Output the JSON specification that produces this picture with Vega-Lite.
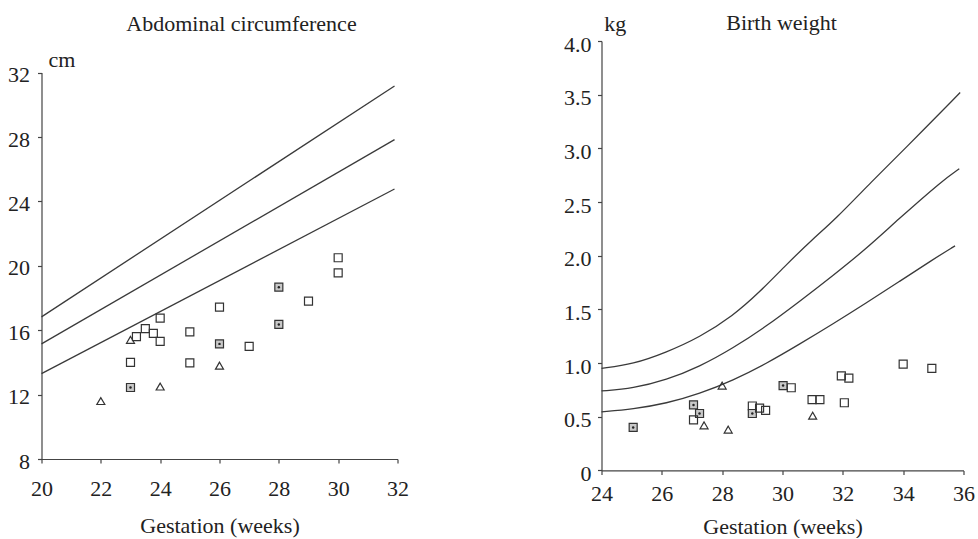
{
  "$schema": "https://vega.github.io/schema/vega-lite/v6.json",
  "background": "white",
  "padding": {"left": 7.5, "top": 11, "right": 5, "bottom": 0},
  "spacing": 204,
  "bounds": "flush",
  "config": {
    "view": {"stroke": null},
    "font": "Liberation Serif",
    "style": {
      "guide-label": {"font": "Liberation Serif", "fontSize": 22, "fill": "#222"},
      "guide-title": {"font": "Liberation Serif", "fontSize": 22, "fontWeight": "normal", "fill": "#222"}
    },
    "axis": {
      "grid": false,
      "domainColor": "#444",
      "tickColor": "#444",
      "domainWidth": 1.2,
      "tickWidth": 1.2,
      "tickSize": 4,
      "labelFont": "Liberation Serif",
      "labelFontSize": 22,
      "labelColor": "#222",
      "labelFlush": false,
      "labelOverlap": false,
      "titleFont": "Liberation Serif",
      "titleFontSize": 22,
      "titleFontWeight": "normal",
      "titleColor": "#222"
    }
  },
  "datasets": {
    "acLines": [
      {"gest": 20, "value": 16.83, "c": "upper"},
      {"gest": 31.9, "value": 31.17, "c": "upper"},
      {"gest": 20, "value": 15.15, "c": "mid"},
      {"gest": 31.9, "value": 27.84, "c": "mid"},
      {"gest": 20, "value": 13.3, "c": "lower"},
      {"gest": 31.9, "value": 24.77, "c": "lower"}
    ],
    "acPts": [
      {"gest": 22, "value": 11.6, "type": "triangle"},
      {"gest": 23, "value": 12.44, "type": "dotted"},
      {"gest": 24, "value": 12.5, "type": "triangle"},
      {"gest": 23, "value": 14.0, "type": "square"},
      {"gest": 23, "value": 15.4, "type": "triangle"},
      {"gest": 23.2, "value": 15.6, "type": "square"},
      {"gest": 23.5, "value": 16.1, "type": "square"},
      {"gest": 23.77, "value": 15.8, "type": "square"},
      {"gest": 24, "value": 15.3, "type": "square"},
      {"gest": 24, "value": 16.75, "type": "square"},
      {"gest": 25, "value": 15.9, "type": "square"},
      {"gest": 25, "value": 13.97, "type": "square"},
      {"gest": 26, "value": 17.43, "type": "square"},
      {"gest": 26, "value": 15.15, "type": "dotted"},
      {"gest": 26, "value": 13.8, "type": "triangle"},
      {"gest": 27, "value": 15.0, "type": "square"},
      {"gest": 28, "value": 18.67, "type": "dotted"},
      {"gest": 28, "value": 16.36, "type": "dotted"},
      {"gest": 29, "value": 17.8, "type": "square"},
      {"gest": 30, "value": 20.5, "type": "square"},
      {"gest": 30, "value": 19.56, "type": "square"}
    ],
    "bwLines": [
      {"gest": 24, "value": 0.95, "c": "upper"},
      {"gest": 25.05, "value": 0.99, "c": "upper"},
      {"gest": 26.15, "value": 1.1, "c": "upper"},
      {"gest": 27.25, "value": 1.24, "c": "upper"},
      {"gest": 28.36, "value": 1.44, "c": "upper"},
      {"gest": 29.24, "value": 1.66, "c": "upper"},
      {"gest": 30.12, "value": 1.915, "c": "upper"},
      {"gest": 31.0, "value": 2.155, "c": "upper"},
      {"gest": 31.72, "value": 2.33, "c": "upper"},
      {"gest": 32.99, "value": 2.7, "c": "upper"},
      {"gest": 34.0, "value": 2.98, "c": "upper"},
      {"gest": 35.89, "value": 3.52, "c": "upper"},
      {"gest": 24, "value": 0.74, "c": "mid"},
      {"gest": 25.05, "value": 0.764, "c": "mid"},
      {"gest": 26.15, "value": 0.842, "c": "mid"},
      {"gest": 27.25, "value": 0.966, "c": "mid"},
      {"gest": 28.35, "value": 1.137, "c": "mid"},
      {"gest": 29.45, "value": 1.339, "c": "mid"},
      {"gest": 30.56, "value": 1.573, "c": "mid"},
      {"gest": 31.66, "value": 1.812, "c": "mid"},
      {"gest": 32.76, "value": 2.061, "c": "mid"},
      {"gest": 33.81, "value": 2.332, "c": "mid"},
      {"gest": 35.3, "value": 2.7, "c": "mid"},
      {"gest": 35.86, "value": 2.81, "c": "mid"},
      {"gest": 24, "value": 0.546, "c": "lower"},
      {"gest": 25.05, "value": 0.571, "c": "lower"},
      {"gest": 26.15, "value": 0.624, "c": "lower"},
      {"gest": 27.25, "value": 0.714, "c": "lower"},
      {"gest": 28.36, "value": 0.839, "c": "lower"},
      {"gest": 29.46, "value": 0.994, "c": "lower"},
      {"gest": 30.56, "value": 1.175, "c": "lower"},
      {"gest": 31.66, "value": 1.362, "c": "lower"},
      {"gest": 32.77, "value": 1.558, "c": "lower"},
      {"gest": 33.87, "value": 1.759, "c": "lower"},
      {"gest": 34.97, "value": 1.962, "c": "lower"},
      {"gest": 35.72, "value": 2.092, "c": "lower"}
    ],
    "bwPts": [
      {"gest": 25.05, "value": 0.4, "type": "dotted"},
      {"gest": 27.05, "value": 0.61, "type": "dotted"},
      {"gest": 27.25, "value": 0.53, "type": "dotted"},
      {"gest": 27.05, "value": 0.47, "type": "square"},
      {"gest": 27.4, "value": 0.42, "type": "triangle"},
      {"gest": 28.0, "value": 0.79, "type": "triangle"},
      {"gest": 28.2, "value": 0.38, "type": "triangle"},
      {"gest": 29.0, "value": 0.6, "type": "square"},
      {"gest": 29.0, "value": 0.53, "type": "dotted"},
      {"gest": 29.24, "value": 0.58, "type": "square"},
      {"gest": 29.44, "value": 0.56, "type": "square"},
      {"gest": 30.02, "value": 0.79, "type": "dotted"},
      {"gest": 30.29, "value": 0.77, "type": "square"},
      {"gest": 30.98, "value": 0.66, "type": "square"},
      {"gest": 31.24, "value": 0.66, "type": "square"},
      {"gest": 31.0, "value": 0.51, "type": "triangle"},
      {"gest": 31.95, "value": 0.88, "type": "square"},
      {"gest": 32.2, "value": 0.86, "type": "square"},
      {"gest": 32.05, "value": 0.63, "type": "square"},
      {"gest": 34.0, "value": 0.99, "type": "square"},
      {"gest": 34.95, "value": 0.95, "type": "square"}
    ]
  },
  "hconcat": [
    {
      "width": 356,
      "height": 418,
      "title": {"text": "Abdominal circumference", "dx": 22, "dy": -5.4, "offset": 0, "anchor": "middle", "font": "Liberation Serif", "fontSize": 22, "fontWeight": "normal", "color": "#222"},
      "encoding": {
        "x": {
          "field": "gest", "type": "quantitative",
          "scale": {"domain": [20, 32], "nice": false, "zero": false},
          "axis": {
            "values": [20, 22, 24, 26, 28, 30, 32],
            "title": "Gestation (weeks)",
            "labelFont": "Liberation Serif",
            "titleFont": "Liberation Serif",
            "labelBaseline": "alphabetic",
            "labelPadding": 32,
            "titleBaseline": "alphabetic",
            "titleY": 73
          }
        },
        "y": {
          "field": "value", "type": "quantitative",
          "scale": {"domain": [8, 32], "nice": false, "zero": false, "range": [418, 31.6]},
          "axis": {
            "values": [8, 12, 16, 20, 24, 28, 32],
            "title": "cm",
            "labelFont": "Liberation Serif",
            "titleFont": "Liberation Serif",
            "titleAngle": 0,
            "titleAlign": "left",
            "titleBaseline": "alphabetic",
            "titleX": 6.5,
            "titleY": 25.4,
            "labelPadding": 8,
            "labelOffset": 2
          }
        }
      },
      "layer": [
        {
          "data": {"name": "acLines"},
          "mark": {"type": "line", "color": "#3a3a3a", "strokeWidth": 1.3},
          "encoding": {"detail": {"field": "c"}}
        },
        {
          "data": {"name": "acPts"},
          "mark": {"type": "point", "filled": false, "stroke": "#333", "strokeWidth": 1.2, "opacity": 1},
          "encoding": {
            "shape": {"field": "type", "type": "nominal", "scale": {"domain": ["square", "dotted", "triangle"], "range": ["square", "square", "triangle-up"]}, "legend": null},
            "fill": {"field": "type", "type": "nominal", "scale": {"domain": ["square", "dotted", "triangle"], "range": ["transparent", "#c8c8c8", "transparent"]}, "legend": null},
            "size": {"field": "type", "type": "nominal", "scale": {"domain": ["square", "dotted", "triangle"], "range": [64, 64, 110]}, "legend": null}
          }
        },
        {
          "data": {"name": "acPts"},
          "transform": [{"filter": "datum.type === 'dotted'"}],
          "mark": {"type": "point", "shape": "circle", "size": 6, "filled": true, "color": "#222", "opacity": 1}
        }
      ]
    },
    {
      "width": 362,
      "height": 429.4,
      "title": {"text": "Birth weight", "dx": -1, "dy": 22.6, "offset": 0, "anchor": "middle", "font": "Liberation Serif", "fontSize": 22, "fontWeight": "normal", "color": "#222"},
      "encoding": {
        "x": {
          "field": "gest", "type": "quantitative",
          "scale": {"domain": [24, 36], "nice": false, "zero": false},
          "axis": {
            "values": [24, 26, 28, 30, 32, 34, 36],
            "title": "Gestation (weeks)",
            "labelFont": "Liberation Serif",
            "titleFont": "Liberation Serif",
            "labelBaseline": "alphabetic",
            "labelPadding": 26,
            "titleBaseline": "alphabetic",
            "titleY": 63
          }
        },
        "y": {
          "field": "value", "type": "quantitative",
          "scale": {"domain": [0, 4], "nice": false},
          "axis": {
            "values": [0, 0.5, 1, 1.5, 2, 2.5, 3, 3.5, 4],
            "labelExpr": "datum.value == 0 ? '0' : format(datum.value, '.1f')",
            "title": "kg",
            "labelFont": "Liberation Serif",
            "titleFont": "Liberation Serif",
            "titleAngle": 0,
            "titleAlign": "left",
            "titleBaseline": "alphabetic",
            "titleX": 2.3,
            "titleY": -11,
            "labelPadding": 6.5,
            "labelOffset": 3
          }
        }
      },
      "layer": [
        {
          "data": {"name": "bwLines"},
          "mark": {"type": "line", "color": "#3a3a3a", "strokeWidth": 1.3, "interpolate": "basis"},
          "encoding": {"detail": {"field": "c"}}
        },
        {
          "data": {"name": "bwPts"},
          "mark": {"type": "point", "filled": false, "stroke": "#333", "strokeWidth": 1.2, "opacity": 1},
          "encoding": {
            "shape": {"field": "type", "type": "nominal", "scale": {"domain": ["square", "dotted", "triangle"], "range": ["square", "square", "triangle-up"]}, "legend": null},
            "fill": {"field": "type", "type": "nominal", "scale": {"domain": ["square", "dotted", "triangle"], "range": ["transparent", "#c8c8c8", "transparent"]}, "legend": null},
            "size": {"field": "type", "type": "nominal", "scale": {"domain": ["square", "dotted", "triangle"], "range": [64, 64, 110]}, "legend": null}
          }
        },
        {
          "data": {"name": "bwPts"},
          "transform": [{"filter": "datum.type === 'dotted'"}],
          "mark": {"type": "point", "shape": "circle", "size": 6, "filled": true, "color": "#222", "opacity": 1}
        }
      ]
    }
  ]
}
